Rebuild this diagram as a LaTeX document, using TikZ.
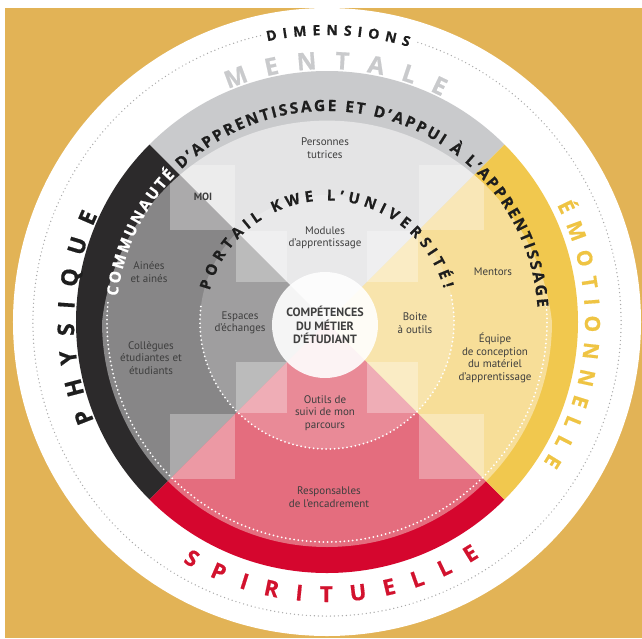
\documentclass[tikz,border=0pt]{standalone}
\usepackage{fontspec}
\setmainfont{PT Sans}
\newfontfamily\arcfont{Open Sans}[BoldFeatures={FakeBold=0.6}]
\usetikzlibrary{decorations.text}
\definecolor{gold}{HTML}{E2B356}
\definecolor{dotgray}{HTML}{A8A8A8}
\definecolor{bandT}{HTML}{C9CACC}
\definecolor{bandL}{HTML}{2C2A2B}
\definecolor{bandR}{HTML}{F1C84E}
\definecolor{bandB}{HTML}{D5062E}
\definecolor{inT}{HTML}{E4E4E5}
\definecolor{inL}{HTML}{878687}
\definecolor{inR}{HTML}{F7DE98}
\definecolor{inB}{HTML}{E46D7E}
\definecolor{labelgray}{HTML}{3E3E3E}
\definecolor{mentgray}{HTML}{C9CACC}
\definecolor{emoyel}{HTML}{EFC443}
\definecolor{spired}{HTML}{D2122E}
\definecolor{txtblack}{HTML}{1E1E1E}
\begin{document}
\begin{tikzpicture}[x=1pt,y=1pt,
  lbl/.style={font=\fontsize{11}{12.5}\selectfont, text=labelgray, align=center, inner sep=0pt},
  dotW/.style={draw=white, line width=2pt, line cap=round, dash pattern=on 0pt off 4.2pt},
  dotG/.style={draw=dotgray, line width=1.4pt, line cap=round, dash pattern=on 0pt off 4pt},
  arctext/.style={decorate, decoration={text along path, text align=fit to path}},
  overlay sq/.style={fill=white, opacity=0.3},
]
\useasboundingbox (-327,-316) rectangle (315,322);
\fill[white] (-327,-316) rectangle (315,322);
\fill[gold] (-322,-316) rectangle (315,314);
\fill[white] (0,0) circle (314);
\draw[dotG] (72:294) arc[start angle=72,end angle=-257,radius=294];

% outer bands
\fill[bandT] (0,0) -- (45:251) arc[start angle=45,end angle=135,radius=251] -- cycle;
\fill[bandL] (0,0) -- (135:251) arc[start angle=135,end angle=225,radius=251] -- cycle;
\fill[bandB] (0,0) -- (225:251) arc[start angle=225,end angle=315,radius=251] -- cycle;
\fill[bandR] (0,0) -- (-45:251) arc[start angle=-45,end angle=45,radius=251] -- cycle;

% inner fields
\begin{scope}
\clip (-225,0) arc[start angle=180,end angle=360,radius=225]
      arc[start angle=6.34,end angle=173.66,radius=226.38] -- cycle;
\fill[inT] (0,0) -- (300,300) -- (-300,300) -- cycle;
\fill[inL] (0,0) -- (-300,300) -- (-300,-300) -- cycle;
\fill[inB] (0,0) -- (-300,-300) -- (300,-300) -- cycle;
\fill[inR] (0,0) -- (300,-300) -- (300,300) -- cycle;
\fill[white,opacity=0.2] (0,0) circle (127);
\fill[overlay sq] (-157,92) rectangle (-92,157);
\fill[overlay sq] (92,92) rectangle (157,157);
\fill[overlay sq] (-157,-92) rectangle (-92,-157);
\fill[overlay sq] (92,-92) rectangle (157,-157);
\fill[overlay sq] (-91,40) rectangle (-40,91);
\fill[overlay sq] (40,40) rectangle (91,91);
\fill[overlay sq] (-91,-40) rectangle (-40,-91);
\fill[overlay sq] (40,-40) rectangle (91,-91);
\end{scope}

\draw[dotW] (175:220) arc[start angle=175,end angle=365,radius=220];
\draw[dotW] (173:127) arc[start angle=173,end angle=373,radius=127];

\fill[white,opacity=0.9] (-2,-3) circle (53);

% labels
\node[lbl] (tut) at (-2,174) {Personnes\\tutrices};
\node[lbl, font=\bfseries\fontsize{10.5}{12}\selectfont] (moi) at (-124,125) {MOI};
\node[lbl] (mod) at (-2,84) {Modules\\d’apprentissage};
\node[lbl] (ain) at (-178,50) {Ainées\\et ainés};
\node[lbl] (col) at (-176,-36) {Collègues\\étudiantes et\\étudiants};
\node[lbl] (esp) at (-87,-1) {Espaces\\d’échanges};
\node[lbl, font=\bfseries\fontsize{12}{13.5}\selectfont, text=txtblack!85] (comp) at (-2,-3) {COMPÉTENCES\\DU MÉTIER\\D’ÉTUDIANT};
\node[lbl] (boite) at (88,-1) {Boite\\à outils};
\node[lbl] (ment) at (166,50) {Mentors};
\node[lbl] (equ) at (168,-36) {Équipe\\de conception\\du matériel\\d’apprentissage};
\node[lbl] (outils) at (-2,-91) {Outils de\\suivi de mon\\parcours};
\node[lbl] (resp) at (2,-175) {Responsables\\de l’encadrement};

% arc texts
{\arcfont\bfseries\fontsize{14}{14}\selectfont
\path[arctext, decoration={text={|\color{txtblack}|DIMENSIONS}}]
  (102:287) arc[start angle=102,end angle=73.5,radius=287];}
{\arcfont\bfseries\fontsize{15.5}{15.5}\selectfont
\path[arctext, decoration={text={|\color{white}|COMMUNAUTÉ |\color{txtblack}|D’APPRENTISSAGE ET D’APPUI À L’APPRENTISSAGE}}]
  (173:211) arc[start angle=173,end angle=4,radius=211];}
{\arcfont\bfseries\fontsize{15}{15}\selectfont
\path[arctext, decoration={text={|\color{txtblack}|PORTAIL KWE L’UNIVERSITÉ!}}]
  (165:121.5) arc[start angle=165,end angle=16,radius=121.5];}
{\arcfont\bfseries\fontsize{24}{24}\selectfont
\path[arctext, decoration={text={|\color{mentgray}|MENTALE}}]
  (113:253) arc[start angle=113,end angle=63,radius=253];}
{\arcfont\bfseries\fontsize{23}{23}\selectfont
\path[arctext, decoration={text={|\color{txtblack}|PHYSIQUE}}]
  (203:253) arc[start angle=203,end angle=155,radius=253];}
{\arcfont\bfseries\fontsize{21}{21}\selectfont
\path[arctext, decoration={text={|\color{emoyel}|ÉMOTIONNELLE}}]
  (27:258) arc[start angle=27,end angle=-33,radius=258];}
{\arcfont\bfseries\fontsize{22}{22}\selectfont
\path[arctext, decoration={text={|\color{spired}|SPIRITUELLE}}]
  (239:280) arc[start angle=239,end angle=303,radius=280];}
\end{tikzpicture}
\end{document}
